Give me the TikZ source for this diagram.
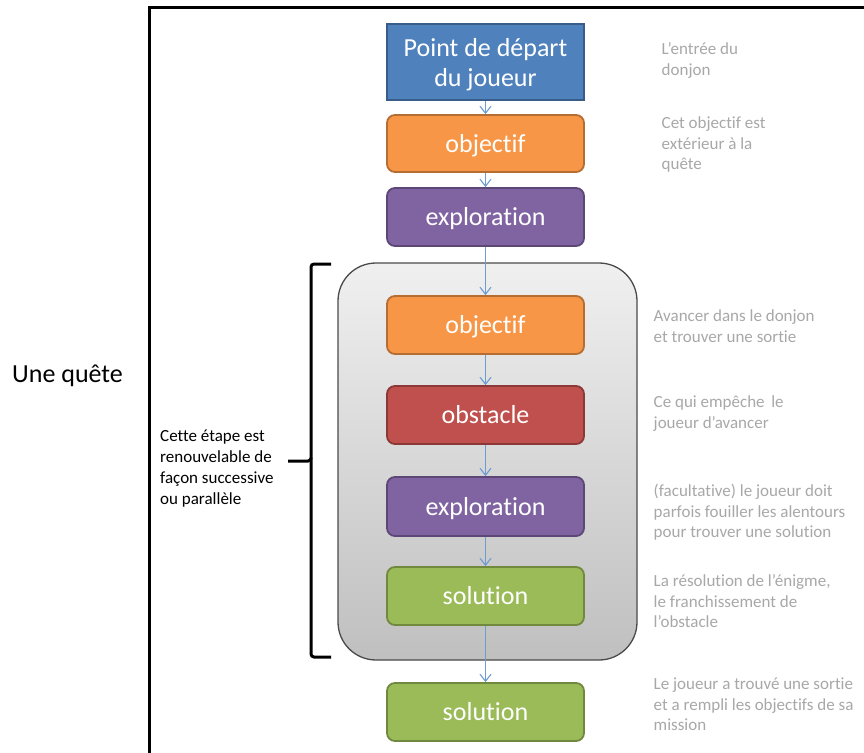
\documentclass[tikz,border=0pt]{standalone}
\usepackage{fontspec}
\setmainfont{Carlito}[Ligatures=NoCommon]
\usetikzlibrary{arrows.meta}
\definecolor{bluefill}{HTML}{4F81BD}
\definecolor{blueline}{HTML}{385D8A}
\definecolor{orangefill}{HTML}{F79646}
\definecolor{orangeline}{HTML}{B66D31}
\definecolor{purplefill}{HTML}{8064A2}
\definecolor{purpleline}{HTML}{5C4776}
\definecolor{redfill}{HTML}{C0504D}
\definecolor{redline}{HTML}{8C3836}
\definecolor{greenfill}{HTML}{9BBB59}
\definecolor{greenline}{HTML}{71893F}
\definecolor{arrowblue}{HTML}{6E9BD1}
\definecolor{notegray}{HTML}{A8A8A8}
\definecolor{grpline}{HTML}{4A4A4A}
\newcommand\rtext[1]{\begin{tabular}[t]{@{}l@{}}#1\end{tabular}}
\newcommand\lowline[1]{\raisebox{-2.5pt}[\height][\depth]{#1}}
\begin{document}
\begin{tikzpicture}[x=1pt,y=-1pt,
  box/.style={minimum width=197pt, minimum height=58pt, line width=1.8pt, rounded corners=8pt,
    text=white, font=\fontsize{26}{30}\selectfont, align=center, inner sep=0pt,
    text height=21pt, text depth=4pt},
  bluebox/.style={box, rounded corners=0pt, fill=bluefill, draw=blueline, minimum height=76pt,
    text height=, text depth=},
  orangebox/.style={box, fill=orangefill, draw=orangeline},
  purplebox/.style={box, fill=purplefill, draw=purpleline},
  redbox/.style={box, fill=redfill, draw=redline},
  greenbox/.style={box, fill=greenfill, draw=greenline},
  flow/.style={draw=arrowblue, line width=1.1pt, -{Straight Barb[length=7pt,width=11pt]}},
  note/.style={anchor=base west, inner sep=0pt, text=notegray, font=\fontsize{17}{20.7}\selectfont},
  lefttext/.style={anchor=base west, inner sep=0pt, text=black, font=\fontsize{17}{20.8}\selectfont},
  frameline/.style={line width=3pt, black},
  bracestyle/.style={line width=3pt, black, rounded corners=3pt},
]
\useasboundingbox (0,0) rectangle (864,752);
\fill[white] (0,0) rectangle (864,752);

% outer frame
\draw[frameline] (149.5,754) -- (149.5,7.5) -- (866,7.5);

% title
\node[anchor=base west, inner sep=0pt, font=\fontsize{26}{30}\selectfont] (title) at (12,382) {Une quête};

% group container
\node[draw=grpline, line width=1.3pt, rounded corners=38pt, top color=black!6, bottom color=black!25,
  minimum width=299pt, minimum height=397pt, inner sep=0pt] (grp) at (487.5,461.5) {};

% brace
\draw[bracestyle] (331,264) -- (311,264) -- (311,461) -- (288,461);
\draw[bracestyle] (311,458) -- (311,657) -- (331,657);

% boxes
\node[bluebox] (b1) at (485.5,62) {\lowline{Point de départ}\\\lowline{du joueur}};
\node[orangebox, minimum height=57pt] (b2) at (485.5,143.5) {objectif};
\node[purplebox] (b3) at (485.5,217) {exploration};
\node[orangebox] (b4) at (485.5,325) {objectif};
\node[redbox] (b5) at (485.5,415) {obstacle};
\node[purplebox, minimum height=59pt] (b6) at (485.5,506.5) {exploration};
\node[greenbox] (b7) at (485.5,596) {solution};
\node[greenbox] (b8) at (485.5,712) {solution};

% connectors
\draw[flow] (b1.south) -- (b2.north);
\draw[flow] (b2.south) -- (b3.north);
\draw[flow] (b3.south) -- (b4.north);
\draw[flow] (b4.south) -- (b5.north);
\draw[flow] (b5.south) -- (b6.north);
\draw[flow] (b6.south) -- (b7.north);
\draw[flow] (b7.south) -- (b8.north);

% left text
\node[lefttext] (lt) at (160,441.7) {\rtext{Cette étape est\\renouvelable de\\façon successive\\ou parallèle}};

% notes
\node[note] (n1) at (661.5,54.5) {\rtext{L’entrée du\\donjon}};
\node[note] (n2) at (661.5,128.5) {\rtext{Cet objectif est\\extérieur à la\\quête}};
\node[note] (n3) at (653.5,321.7) {\rtext{Avancer dans le donjon\\et trouver une sortie}};
\node[note] (n4) at (653.5,407.3) {\rtext{Ce qui empêche\ \,le\\joueur d’avancer}};
\node[note] (n5) at (653.5,496.5) {\rtext{(facultative) le joueur doit\\parfois fouiller les alentours\\pour trouver une solution}};
\node[note] (n6) at (653.5,586.5) {\rtext{La résolution de l’énigme,\\le franchissement de\\l’obstacle}};
\node[note] (n7) at (653.5,689.5) {\rtext{Le joueur a trouvé une sortie\\et a rempli les objectifs de sa\\mission}};
\end{tikzpicture}
\end{document}
